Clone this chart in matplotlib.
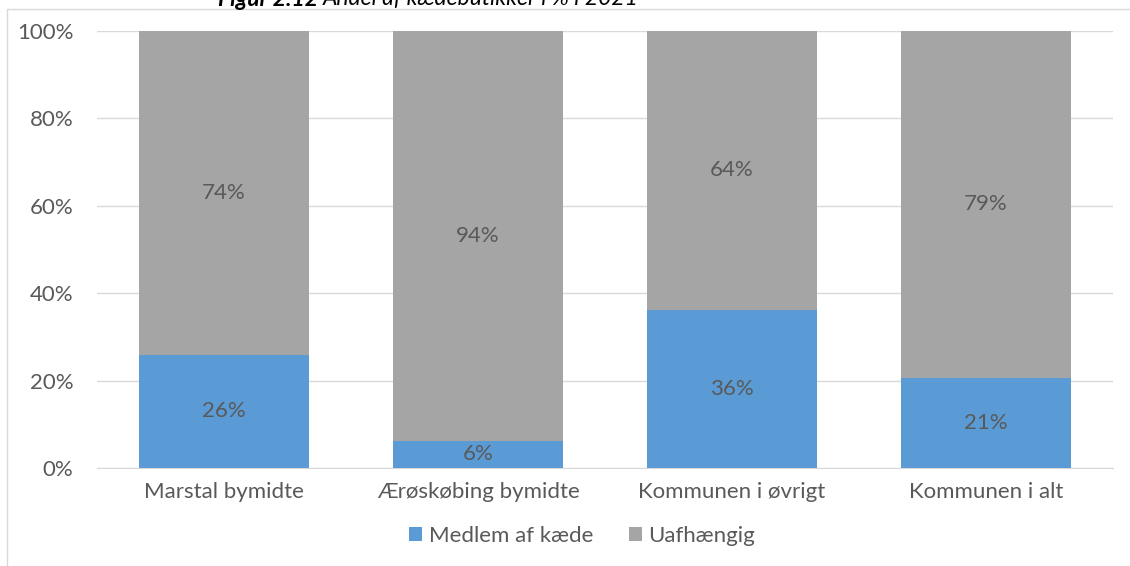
import matplotlib.pyplot as plt
import numpy as np
from matplotlib.patches import Rectangle

plt.rcParams['font.family'] = ['Lato', 'DejaVu Sans']

categories = ['Marstal bymidte', 'Ærøskøbing bymidte', 'Kommunen i øvrigt', 'Kommunen i alt']
medlem = [25.9, 6.2, 36.2, 20.6]
uafh = [74.1, 93.8, 63.8, 79.4]
labels_medlem = ['26%', '6%', '36%', '21%']
labels_uafh = ['74%', '94%', '64%', '79%']

blue = '#5B9BD5'
grey = '#A5A5A5'
txt = '#595959'
fs = 16

fig = plt.figure(figsize=(11.3, 5.66), dpi=100)
ax = fig.add_axes([97/1130, 1 - 468/566, (1113 - 97)/1130, (468 - 31)/566])

x = np.arange(len(categories))
w = 0.67
b1 = ax.bar(x, medlem, w, color=blue, label='Medlem af kæde', zorder=3)
b2 = ax.bar(x, uafh, w, bottom=medlem, color=grey, label='Uafhængig', zorder=3)

for i in range(len(x)):
    ax.text(x[i], medlem[i] / 2, labels_medlem[i], ha='center', va='center', fontsize=fs, color=txt, zorder=4)
    ax.text(x[i], medlem[i] + uafh[i] / 2, labels_uafh[i], ha='center', va='center', fontsize=fs, color=txt, zorder=4)

ax.set_xlim(-0.5, len(categories) - 0.5)
ax.set_ylim(0, 100)
ax.set_yticks([0, 20, 40, 60, 80, 100])
ax.set_yticklabels(['0%', '20%', '40%', '60%', '80%', '100%'])
ax.set_xticks(x)
ax.set_xticklabels(categories)
ax.tick_params(axis='both', length=0, labelsize=fs, labelcolor=txt)
ax.tick_params(axis='y', pad=17)
ax.tick_params(axis='x', pad=10)
ax.grid(axis='y', color='#D9D9D9', linewidth=1, zorder=0)
for s in ['top', 'right', 'left']:
    ax.spines[s].set_visible(False)
ax.spines['bottom'].set_color('#D9D9D9')

fig.legend(handles=[b1, b2], loc='center', bbox_to_anchor=(582/1130, 1 - 536/566), ncol=2,
           frameon=False, fontsize=fs, labelcolor=txt, handlelength=0.6, handleheight=0.6,
           handletextpad=0.3, columnspacing=1.6)

# chart frame
fig.add_artist(Rectangle((7/1130, -0.05), 1.2, 1 - 9/566 + 0.05, transform=fig.transFigure,
                         fill=False, edgecolor='#D9D9D9', linewidth=1))

# title partly cut off at the top
fig.text(318/1130, 1 + 1/566, 'Figur 2.12', ha='right', va='center', fontsize=16.5,
         fontweight='bold', style='italic')
fig.text(323/1130, 1 + 1/566, 'Andel af kædebutikker i % i 2021', ha='left', va='center',
         fontsize=16.5, style='italic')

fig.savefig('out.png', dpi=100)
